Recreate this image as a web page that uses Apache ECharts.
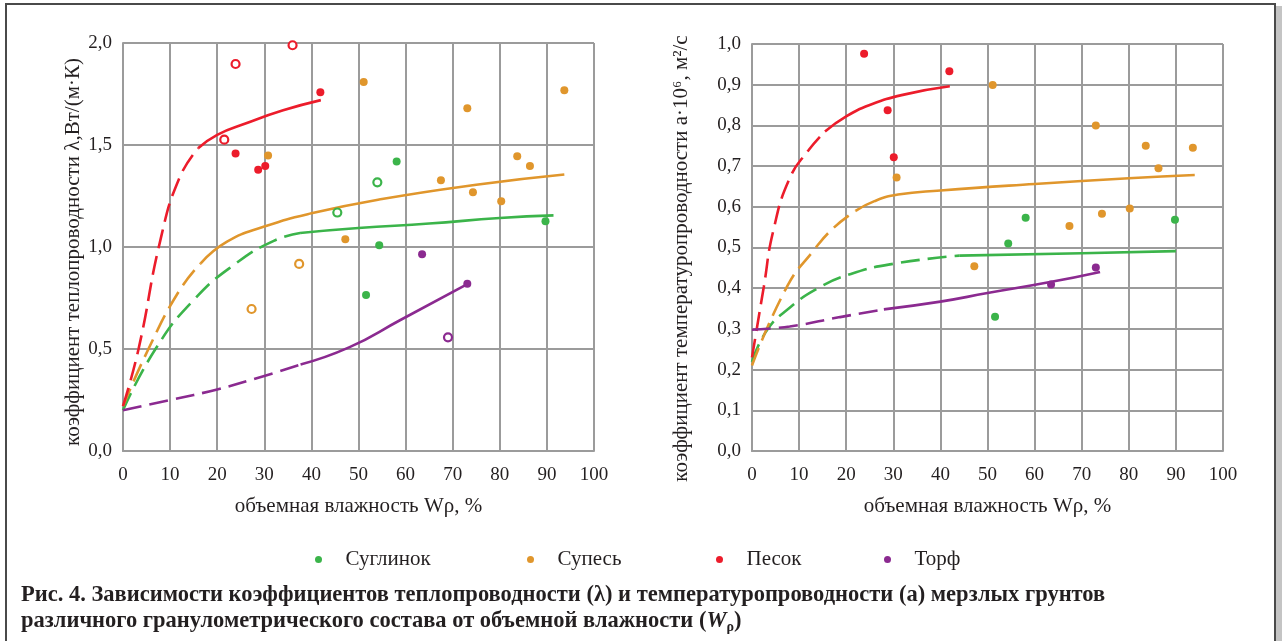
<!DOCTYPE html>
<html>
<head>
<meta charset="utf-8">
<script src="https://cdn.jsdelivr.net/npm/echarts@6/dist/echarts.min.js"></script>
<style>
  html, body { margin: 0; padding: 0; background: #fff; }
  #chart { width: 1282px; height: 641px; }
</style>
</head>
<body>
<div id="chart"></div>
<script>
// ---- Soil types (legend order) ----
const soils = ['Суглинок', 'Супесь', 'Песок', 'Торф'];

// ---- Axis tick labels ----
const xTickLabels = ['0', '10', '20', '30', '40', '50', '60', '70', '80', '90', '100'];
const lambdaTickLabels = ['0,0', '0,5', '1,0', '1,5', '2,0'];
const diffTickLabels = ['0,0', '0,1', '0,2', '0,3', '0,4', '0,5', '0,6', '0,7', '0,8', '0,9', '1,0'];

// ---- Thermal conductivity λ, W/(m·K): fitted curves (dashed = extrapolated part) ----
const loamLambdaDashed = [[0, 0.2], [6.9, 0.5], [15, 0.74], [24, 0.92], [32, 1.03], [37.6, 1.069]];
const loamLambdaSolid = [[37.6, 1.069], [50, 1.093], [65, 1.115], [80, 1.142], [91.4, 1.155]];
const sandyLoamLambdaDashed = [[0, 0.22], [5.4, 0.5], [11.8, 0.78], [16.5, 0.92]];
const sandyLoamLambdaSolid = [[16.5, 0.92], [22, 1.025], [30, 1.1], [40, 1.165], [55, 1.235], [75, 1.305], [93.7, 1.355]];
const sandLambdaDashed = [[0, 0.22], [3.3, 0.5], [8, 1.04], [12, 1.34], [16, 1.485]];
const sandLambdaSolid = [[16, 1.485], [20, 1.55], [26, 1.605], [34, 1.67], [42, 1.72]];
const peatLambdaDashed = [[0, 0.2], [10, 0.25], [20, 0.302], [30, 0.368], [37.7, 0.424]];
const peatLambdaSolid = [[37.7, 0.424], [48, 0.508], [58.8, 0.641], [73, 0.817]];

// ---- Thermal conductivity λ: measurements (open = second sample group) ----
const loamLambdaPts = [[58.1, 1.419], [54.4, 1.008], [89.7, 1.126], [51.6, 0.765]];
const loamLambdaOpen = [[54.0, 1.317], [45.5, 1.169]];
const sandyLoamLambdaPts = [[30.8, 1.448], [51.1, 1.809], [73.1, 1.68], [93.7, 1.768], [83.7, 1.445], [86.4, 1.397], [67.5, 1.327], [74.3, 1.268], [80.3, 1.224], [47.2, 1.038]];
const sandyLoamLambdaOpen = [[27.3, 0.696], [37.4, 0.917]];
const sandLambdaPts = [[23.9, 1.458], [28.7, 1.379], [30.2, 1.397], [41.9, 1.758]];
const sandLambdaOpen = [[23.9, 1.897], [36.0, 1.989], [21.5, 1.526]];
const peatLambdaPts = [[63.5, 0.964], [73.1, 0.82]];
const peatLambdaOpen = [[69.0, 0.557]];

// ---- Thermal diffusivity a·10^6, m²/s: fitted curves ----
const loamDiffDashed = [[0, 0.219], [3.2, 0.297], [8, 0.352], [14, 0.4], [21, 0.435], [30, 0.46], [44, 0.48]];
const loamDiffSolid = [[44, 0.48], [70, 0.486], [90, 0.491]];
const sandyLoamDiffDashed = [[0, 0.21], [7.4, 0.403], [13.1, 0.493], [17.3, 0.548], [22, 0.59]];
const sandyLoamDiffSolid = [[22, 0.59], [26, 0.614], [31, 0.63], [40, 0.64], [60, 0.656], [80, 0.67], [94, 0.678]];
const sandDiffDashed = [[0, 0.23], [2.5, 0.403], [4.5, 0.54], [8, 0.67], [12, 0.739], [15.5, 0.785]];
const sandDiffSolid = [[15.5, 0.785], [20, 0.822], [25, 0.85], [32, 0.875], [42, 0.896]];
const peatDiffDashed = [[0, 0.298], [8, 0.306], [18.7, 0.329], [28, 0.348]];
const peatDiffSolid = [[28, 0.348], [40, 0.367], [50, 0.388], [63.3, 0.415], [73.9, 0.44]];

// ---- Thermal diffusivity: measurements ----
const loamDiffPts = [[58.1, 0.573], [54.4, 0.51], [89.8, 0.568], [51.6, 0.33]];
const sandyLoamDiffPts = [[30.7, 0.672], [51.1, 0.899], [73.0, 0.8], [83.6, 0.75], [93.6, 0.745], [86.3, 0.695], [80.2, 0.596], [74.3, 0.583], [67.4, 0.553], [47.2, 0.454]];
const sandDiffPts = [[23.8, 0.976], [41.9, 0.933], [28.8, 0.837], [30.1, 0.722]];
const peatDiffPts = [[63.5, 0.409], [73.0, 0.451]];

// ---- Styling ----
const colors = { 'Суглинок': '#3bb44a', 'Супесь': '#e0962c', 'Песок': '#ec1c2b', 'Торф': '#8b2a90' };
const serif = '"Liberation Serif", "DejaVu Serif", serif';
const ink = '#231f20';
const gridGray = '#9b9b9b';

function curve(name, data, dashed, idx) {
  return {
    type: 'line', name, data, xAxisIndex: idx, yAxisIndex: idx,
    smooth: 0.5, showSymbol: false, silent: true, z: 2,
    lineStyle: { color: colors[name], width: 2.6, type: dashed ? [19, 8] : 'solid', cap: 'butt' }
  };
}
function points(name, data, open, idx) {
  return {
    type: 'scatter', name, data, xAxisIndex: idx, yAxisIndex: idx, z: 5,
    symbol: 'circle', symbolSize: 8,
    itemStyle: open
      ? { color: '#ffffff', borderColor: colors[name], borderWidth: 2.2, opacity: 1 }
      : { color: colors[name], opacity: 1 }
  };
}

function xAxisFor(idx) {
  return {
    type: 'value', gridIndex: idx, min: 0, max: 100, interval: 10,
    name: 'объемная влажность Wρ, %', nameLocation: 'middle', nameGap: 45,
    nameTextStyle: { fontFamily: serif, fontSize: 21, color: ink },
    axisLine: { show: true, lineStyle: { color: gridGray, width: 2 } },
    axisTick: { show: false },
    axisLabel: { fontFamily: serif, fontSize: 19, color: ink, margin: 15,
      formatter: v => xTickLabels[Math.round(v / 10)] },
    splitLine: { show: true, lineStyle: { color: gridGray, width: 2 } }
  };
}
function yAxisFor(idx, max, step, labels, name, gap, shift) {
  return {
    type: 'value', gridIndex: idx, min: 0, max, interval: step,
    name, nameLocation: 'middle', nameGap: gap,
    nameTextStyle: { fontFamily: serif, fontSize: 21, color: ink, padding: [0, shift, 0, 0] },
    axisLine: { show: true, lineStyle: { color: gridGray, width: 2 } },
    axisTick: { show: false },
    axisLabel: { fontFamily: serif, fontSize: 19, color: ink, margin: 11,
      formatter: v => labels[Math.round(v / step)] },
    splitLine: { show: true, lineStyle: { color: gridGray, width: 2 } }
  };
}

const legendLeft = [310, 522, 711, 879];
const legends = soils.map((s, i) => ({
  left: legendLeft[i], top: 544, orient: 'horizontal', selectedMode: false,
  itemWidth: 44, itemHeight: 7, symbolKeepAspect: true,
  textStyle: { fontFamily: serif, fontSize: 21, color: ink },
  data: [{ name: s, icon: 'circle', itemStyle: { color: colors[s], borderWidth: 0 } }]
}));

const series = [
  curve('Суглинок', loamLambdaDashed, true, 0), curve('Суглинок', loamLambdaSolid, false, 0),
  curve('Супесь', sandyLoamLambdaDashed, true, 0), curve('Супесь', sandyLoamLambdaSolid, false, 0),
  curve('Песок', sandLambdaDashed, true, 0), curve('Песок', sandLambdaSolid, false, 0),
  curve('Торф', peatLambdaDashed, true, 0), curve('Торф', peatLambdaSolid, false, 0),
  points('Суглинок', loamLambdaPts, false, 0), points('Суглинок', loamLambdaOpen, true, 0),
  points('Супесь', sandyLoamLambdaPts, false, 0), points('Супесь', sandyLoamLambdaOpen, true, 0),
  points('Песок', sandLambdaPts, false, 0), points('Песок', sandLambdaOpen, true, 0),
  points('Торф', peatLambdaPts, false, 0), points('Торф', peatLambdaOpen, true, 0),

  curve('Суглинок', loamDiffDashed, true, 1), curve('Суглинок', loamDiffSolid, false, 1),
  curve('Супесь', sandyLoamDiffDashed, true, 1), curve('Супесь', sandyLoamDiffSolid, false, 1),
  curve('Песок', sandDiffDashed, true, 1), curve('Песок', sandDiffSolid, false, 1),
  curve('Торф', peatDiffDashed, true, 1), curve('Торф', peatDiffSolid, false, 1),
  points('Суглинок', loamDiffPts, false, 1), points('Супесь', sandyLoamDiffPts, false, 1),
  points('Песок', sandDiffPts, false, 1), points('Торф', peatDiffPts, false, 1)
];

const chart = echarts.init(document.getElementById('chart'), null, { renderer: 'canvas' });
chart.setOption({
  animation: false,
  backgroundColor: '#ffffff',
  title: {
    left: 21, top: 582, padding: 0,
    text: '{b|Рис. 4. Зависимости коэффициентов теплопроводности (λ) и температуропроводности (а) мерзлых грунтов}\n' +
          '{b|различного гранулометрического состава от объемной влажности (}{i|W}{s|ρ}{b|)}',
    textStyle: {
      rich: {
        b: { fontFamily: serif, fontWeight: 'bold', fontSize: 22.5, lineHeight: 26, color: ink },
        i: { fontFamily: serif, fontWeight: 'bold', fontStyle: 'italic', fontSize: 22.5, lineHeight: 26, color: ink },
        s: { fontFamily: serif, fontWeight: 'bold', fontSize: 14, lineHeight: 12, verticalAlign: 'bottom', color: ink }
      }
    }
  },
  legend: legends,
  grid: [
    { left: 123, top: 43, width: 471, height: 408 },
    { left: 752, top: 44, width: 471, height: 407 }
  ],
  xAxis: [xAxisFor(0), xAxisFor(1)],
  yAxis: [
    yAxisFor(0, 2, 0.5, lambdaTickLabels, 'коэффициент теплопроводности λ,Вт/(м·К)', 32, 10),
    yAxisFor(1, 1, 0.1, diffTickLabels, 'коэффициент температуропроводности a·10⁶, м²/с', 60, 22)
  ],
  graphic: [
    { type: 'rect', silent: true, z: 100, shape: { x: 1276, y: 6, width: 6, height: 640 }, style: { fill: '#c4c4c4' } },
    { type: 'rect', silent: true, z: 101, shape: { x: 6, y: 4, width: 1269, height: 700 },
      style: { fill: null, stroke: '#4a4a4a', lineWidth: 2 } }
  ],
  series
});
</script>
</body>
</html>
